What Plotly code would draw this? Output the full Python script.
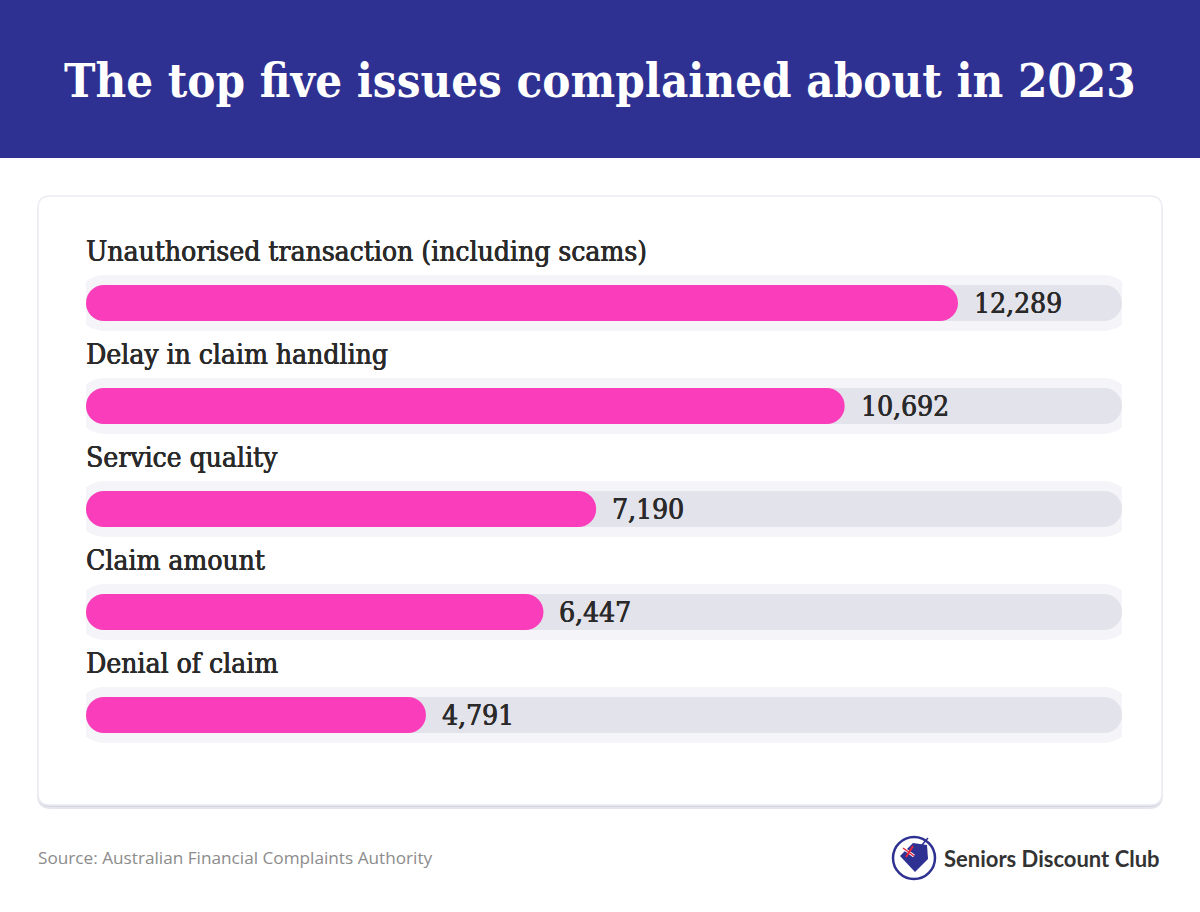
import plotly.graph_objects as go

# ---- data ----
categories = [
    "Unauthorised transaction (including scams)",
    "Delay in claim handling",
    "Service quality",
    "Claim amount",
    "Denial of claim",
]
complaints = [12289, 10692, 7190, 6447, 4791]
track_max = 14600

W, H = 1200, 912
NAVY = "#2E3192"
PINK = "#FA3DBB"
TRACK = "#E3E3EB"
HALO = "#F4F4F9"
INK = "#2A2A2A"
SERIF = "DejaVu Serif Condensed, DejaVu Serif, serif"

X0_PX, X1_PX = 86, 1122
BAR_PX = 36      # bar thickness
HALO_PX = 56     # halo thickness
px_per_unit = (X1_PX - X0_PX) / track_max
cap = (BAR_PX / 2) / px_per_unit   # cap radius in data units


def px_x(x):
    return x / W


def px_y(y):
    return 1 - y / H


def rrect(x0, y0, x1, y1, r):
    rx, ry = r / W, r / H
    X0, X1 = px_x(x0), px_x(x1)
    Y0, Y1 = px_y(y0), px_y(y1)
    return (
        f"M{X0 + rx},{Y0} L{X1 - rx},{Y0} Q{X1},{Y0} {X1},{Y0 - ry} "
        f"L{X1},{Y1 + ry} Q{X1},{Y1} {X1 - rx},{Y1} L{X0 + rx},{Y1} "
        f"Q{X0},{Y1} {X0},{Y1 + ry} L{X0},{Y0 - ry} Q{X0},{Y0} {X0 + rx},{Y0} Z"
    )


def pill_xy(ends):
    xs, ys = [], []
    for c, v in zip(categories, ends):
        xs += [cap, v - cap, None]
        ys += [c, c, None]
    return xs, ys


fig = go.Figure()

hx, hy = pill_xy([track_max] * len(categories))
fig.add_trace(go.Scatter(
    x=hx, y=hy, mode="lines+markers", connectgaps=False,
    line=dict(color=HALO, width=HALO_PX),
    marker=dict(color=HALO, size=HALO_PX, line=dict(width=0)),
    hoverinfo="skip", showlegend=False,
))
fig.add_trace(go.Scatter(
    x=hx, y=hy, mode="lines+markers", connectgaps=False,
    line=dict(color=TRACK, width=BAR_PX),
    marker=dict(color=TRACK, size=BAR_PX, line=dict(width=0)),
    hoverinfo="skip", showlegend=False,
))
vx, vy = pill_xy(complaints)
fig.add_trace(go.Scatter(
    x=vx, y=vy, mode="lines+markers", connectgaps=False,
    line=dict(color=PINK, width=BAR_PX),
    marker=dict(color=PINK, size=BAR_PX, line=dict(width=0)),
    hoverinfo="skip", showlegend=False,
))

label_font = dict(family=SERIF, size=28, color=INK,
                  shadow=f"0.5px 0 0 {INK}, -0.2px 0 0 {INK}")

annotations = []
for c, v in zip(categories, complaints):
    annotations.append(dict(
        x=0, y=c, xref="x", yref="y", text=c, showarrow=False,
        xanchor="left", yanchor="middle", yshift=52, xshift=-2,
        font=label_font,
    ))
    annotations.append(dict(
        x=v, y=c, xref="x", yref="y", text=f"{v:,}", showarrow=False,
        xanchor="left", yanchor="middle", xshift=14,
        font=label_font,
    ))

annotations.append(dict(
    x=0.5, y=px_y(80), xref="paper", yref="paper", text="The top five issues complained about in 2023",
    showarrow=False, xanchor="center", yanchor="middle",
    font=dict(family=SERIF, size=47, color="white", weight=600),
))
annotations.append(dict(
    x=px_x(36), y=px_y(857), xref="paper", yref="paper",
    text="Source: Australian Financial Complaints Authority",
    showarrow=False, xanchor="left", yanchor="middle",
    font=dict(family="Open Sans, sans-serif", size=17.2, color="#8C8C8C"),
))
annotations.append(dict(
    x=px_x(942), y=px_y(858), xref="paper", yref="paper",
    text="<b>Seniors Discount Club</b>",
    showarrow=False, xanchor="left", yanchor="middle",
    font=dict(family="Lato, sans-serif", size=22, color="#333333"),
))

shapes = [
    dict(type="rect", xref="paper", yref="paper", x0=0, x1=1, y0=px_y(158), y1=1,
         fillcolor=NAVY, line=dict(width=0), layer="below"),
    dict(type="path", xref="paper", yref="paper", path=rrect(37, 199, 1163, 809, 14),
         fillcolor="rgba(180,180,200,0.35)", line=dict(width=0), layer="below"),
    dict(type="path", xref="paper", yref="paper", path=rrect(38, 198, 1162, 807, 13),
         fillcolor="rgba(200,200,215,0.5)", line=dict(width=0), layer="below"),
    dict(type="path", xref="paper", yref="paper", path=rrect(38, 196, 1162, 805, 12),
         fillcolor="white", line=dict(color="#ECECF3", width=1.5), layer="below"),
    # logo
    dict(type="circle", xref="paper", yref="paper",
         x0=px_x(893), x1=px_x(935), y0=px_y(879), y1=px_y(837),
         fillcolor="white", line=dict(color=NAVY, width=2.5), layer="above"),
    dict(type="path", xref="paper", yref="paper",
         path=(f"M{px_x(900)},{px_y(856)} L{px_x(913)},{px_y(843)} L{px_x(927)},{px_y(845)} "
               f"L{px_x(928)},{px_y(859)} L{px_x(915)},{px_y(872)} Z"),
         fillcolor=NAVY, line=dict(width=0), layer="above"),
    dict(type="line", xref="paper", yref="paper",
         x0=px_x(903), x1=px_x(914), y0=px_y(848), y1=px_y(856),
         line=dict(color="white", width=3), layer="above"),
    dict(type="line", xref="paper", yref="paper",
         x0=px_x(903), x1=px_x(914), y0=px_y(848), y1=px_y(856),
         line=dict(color="#E8233A", width=1.5), layer="above"),
    dict(type="line", xref="paper", yref="paper",
         x0=px_x(906), x1=px_x(913), y0=px_y(857), y1=px_y(846),
         line=dict(color="#E8233A", width=2), layer="above"),
    dict(type="line", xref="paper", yref="paper",
         x0=px_x(922), x1=px_x(928), y0=px_y(845), y1=px_y(838),
         line=dict(color=NAVY, width=1.5), layer="above"),
]

fig.update_layout(
    width=W, height=H,
    margin=dict(l=0, r=0, t=0, b=0),
    paper_bgcolor="white", plot_bgcolor="rgba(0,0,0,0)",
    xaxis=dict(domain=[px_x(X0_PX), px_x(X1_PX)], range=[0, track_max], visible=False, fixedrange=True),
    yaxis=dict(domain=[px_y(766.5), px_y(251.5)], range=[4.5, -0.5], autorange=False,
               visible=False, type="category", fixedrange=True),
    annotations=annotations,
    shapes=shapes,
)

fig.write_html("out.html", config={"displayModeBar": False},
               post_script="document.body.style.margin='0px';")
